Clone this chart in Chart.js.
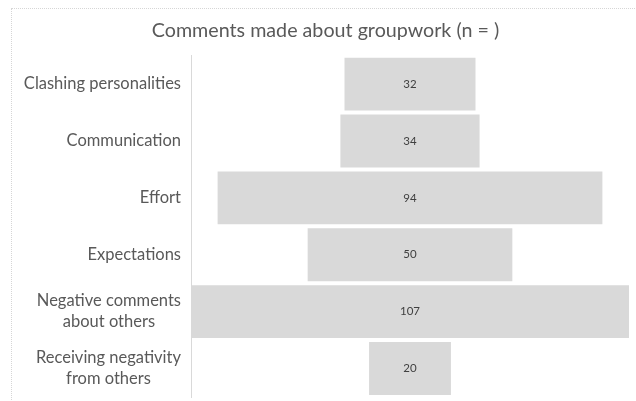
<!DOCTYPE html>
<html>
<head>
<meta charset="utf-8">
<script src="https://cdn.jsdelivr.net/npm/chart.js@4/dist/chart.umd.min.js"></script>
<style>
  html, body { margin: 0; padding: 0; background: #fff; }
  #wrap { position: relative; width: 636px; height: 401px; }
  #frame { position: absolute; left: 11px; top: 8px; width: 640px; height: 400px;
           border: 1px dotted #d6d6d6; box-sizing: border-box; pointer-events: none; }
  canvas { position: absolute; left: 0; top: 0; }
</style>
</head>
<body>
<div id="wrap">
  <div id="frame"></div>
  <canvas id="c" width="636" height="401"></canvas>
</div>
<script>
const categories = [
  "Clashing personalities",
  "Communication",
  "Effort",
  "Expectations",
  ["Negative comments", "about others"],
  ["Receiving negativity", "from others"]
];
const counts = [32, 34, 94, 50, 107, 20];

// Centre every bar on the same midpoint so the bars form a funnel.
const maxCount = Math.max(...counts);
const mid = maxCount / 2;
const spans = counts.map(v => [mid - v / 2, mid + v / 2]);

const labelFont = '16.5px Lato, "Open Sans", sans-serif';
const labelLineHeight = 21;

// Category labels: each block is right-aligned to the axis, with its
// wrapped lines centred on one another.
const categoryLabels = {
  id: 'categoryLabels',
  afterDraw(chart) {
    const ctx = chart.ctx;
    const y = chart.scales.y;
    const right = y.right - 10;
    ctx.save();
    ctx.font = labelFont;
    ctx.fillStyle = '#595959';
    ctx.textAlign = 'center';
    ctx.textBaseline = 'middle';
    categories.forEach((label, i) => {
      const lines = Array.isArray(label) ? label : [label];
      const widest = Math.max(...lines.map(l => ctx.measureText(l).width));
      const cx = right - widest / 2;
      const cy = y.getPixelForTick(i);
      const top = cy - (lines.length - 1) * labelLineHeight / 2;
      lines.forEach((l, k) => ctx.fillText(l, cx, top + k * labelLineHeight));
    });
    ctx.restore();
  }
};

const valueLabels = {
  id: 'valueLabels',
  afterDatasetsDraw(chart) {
    const ctx = chart.ctx;
    const meta = chart.getDatasetMeta(0);
    ctx.save();
    ctx.font = '11.5px Lato, "Open Sans", sans-serif';
    ctx.fillStyle = '#404040';
    ctx.textAlign = 'center';
    ctx.textBaseline = 'middle';
    meta.data.forEach((bar, i) => {
      const x = (bar.x + bar.base) / 2;
      ctx.fillText(String(counts[i]), x, bar.y);
    });
    ctx.restore();
  }
};

new Chart(document.getElementById('c'), {
  type: 'bar',
  data: {
    labels: categories,
    datasets: [{
      data: spans,
      backgroundColor: '#d9d9d9',
      borderWidth: 0,
      categoryPercentage: 1,
      barPercentage: 0.93
    }]
  },
  options: {
    indexAxis: 'y',
    responsive: false,
    animation: false,
    layout: { padding: { left: 22, right: 7, top: 0, bottom: 4 } },
    plugins: {
      legend: { display: false },
      tooltip: { enabled: false },
      title: {
        display: true,
        text: 'Comments made about groupwork (n = )',
        color: '#595959',
        font: { family: 'Lato, "Open Sans", sans-serif', size: 19.7, weight: 'normal' },
        padding: { top: 19, bottom: 13 }
      }
    },
    scales: {
      x: {
        display: false,
        min: 0,
        max: maxCount
      },
      y: {
        grid: { display: false, drawTicks: false },
        border: { display: true, color: '#d9d9d9', width: 1 },
        ticks: { display: false },
        afterFit(scale) {
          scale.width = 169;
          scale.paddingTop = 0;
          scale.paddingBottom = 0;
        }
      }
    }
  },
  plugins: [valueLabels, categoryLabels]
});
</script>
</body>
</html>
